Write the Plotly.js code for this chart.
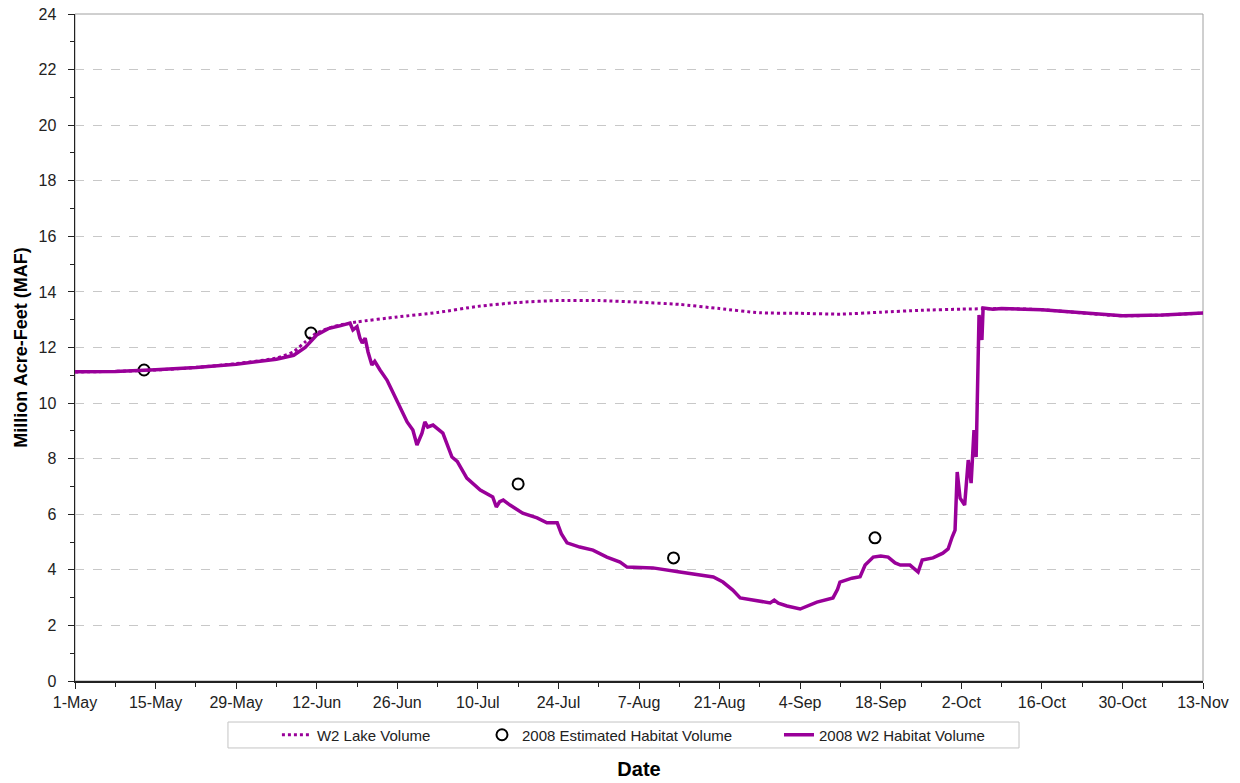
<!DOCTYPE html>
<html>
<head>
<meta charset="utf-8">
<script src="https://cdn.plot.ly/plotly-3.0.1.min.js"></script>
<style>
  html, body { margin: 0; padding: 0; background: #fff; }
  #chart { width: 1240px; height: 783px; }
</style>
</head>
<body>
<div id="chart"></div>
<script>
// Lake volume simulated by the W2 model (million acre-feet)
const lakeDates = [
  '2008-05-01', '2008-05-08', '2008-05-15', '2008-05-22', '2008-05-29',
  '2008-06-05', '2008-06-08', '2008-06-10', '2008-06-12', '2008-06-15',
  '2008-06-19', '2008-06-26', '2008-07-03', '2008-07-10', '2008-07-17',
  '2008-07-24', '2008-07-31', '2008-08-07', '2008-08-14', '2008-08-21',
  '2008-08-28', '2008-09-04', '2008-09-11', '2008-09-18', '2008-09-25',
  '2008-10-02', '2008-10-09', '2008-10-16', '2008-10-23', '2008-10-30',
  '2008-11-06', '2008-11-13'
];
const lakeVolume = [
  11.12, 11.14, 11.19, 11.28, 11.42,
  11.62, 11.85, 12.20, 12.52, 12.76,
  12.92, 13.10, 13.26, 13.48, 13.62,
  13.69, 13.69, 13.63, 13.55, 13.40,
  13.25, 13.23, 13.20, 13.27, 13.34,
  13.38, 13.40, 13.36, 13.24, 13.14,
  13.17, 13.24
];

// Habitat volume from the 2008 W2 run
const habitatDates = [
  '2008-05-01', '2008-05-08', '2008-05-15', '2008-05-22', '2008-05-29',
  '2008-06-05', '2008-06-08', '2008-06-10', '2008-06-12', '2008-06-14',
  '2008-06-16', '2008-06-17 19:00', '2008-06-18 07:00', '2008-06-19 00:00', '2008-06-19 12:00',
  '2008-06-19 22:00', '2008-06-20 10:00', '2008-06-20 22:00', '2008-06-21 14:00', '2008-06-22 02:00',
  '2008-06-23 00:00', '2008-06-23 12:00', '2008-06-24 05:00', '2008-06-24 18:00', '2008-06-25 07:00',
  '2008-06-26 12:00', '2008-06-27 17:00', '2008-06-28 17:00', '2008-06-29 10:00', '2008-06-30 07:00',
  '2008-06-30 19:00', '2008-07-01 07:00', '2008-07-02 05:00', '2008-07-03 22:00', '2008-07-05 12:00',
  '2008-07-06 10:00', '2008-07-08 02:00', '2008-07-10 10:00', '2008-07-12 14:00', '2008-07-13 05:00',
  '2008-07-13 19:00', '2008-07-14 10:00', '2008-07-15 14:00', '2008-07-17 19:00', '2008-07-20 07:00',
  '2008-07-22 00:00', '2008-07-23 19:00', '2008-07-24 12:00', '2008-07-25 12:00', '2008-07-27 17:00',
  '2008-07-30 00:00', '2008-08-01 10:00', '2008-08-03 17:00', '2008-08-04 22:00', '2008-08-09 10:00',
  '2008-08-14 02:00', '2008-08-19 22:00', '2008-08-21 14:00', '2008-08-23 07:00', '2008-08-24 14:00',
  '2008-08-26 19:00', '2008-08-29 19:00', '2008-08-30 12:00', '2008-08-31 05:00', '2008-09-01 17:00',
  '2008-09-04 00:00', '2008-09-06 22:00', '2008-09-09 17:00', '2008-09-10 12:00', '2008-09-10 22:00',
  '2008-09-13 00:00', '2008-09-14 10:00', '2008-09-15 07:00', '2008-09-16 17:00', '2008-09-18 00:00',
  '2008-09-19 07:00', '2008-09-20 12:00', '2008-09-21 10:00', '2008-09-23 02:00', '2008-09-24 12:00',
  '2008-09-25 05:00', '2008-09-27 02:00', '2008-09-28 19:00', '2008-09-29 17:00', '2008-09-30 10:00',
  '2008-09-30 22:00', '2008-10-01 07:00', '2008-10-01 19:00', '2008-10-02 14:00', '2008-10-03 05:00',
  '2008-10-03 17:00', '2008-10-04 05:00', '2008-10-04 14:00', '2008-10-05 02:00', '2008-10-05 14:00',
  '2008-10-05 19:00', '2008-10-07 12:00', '2008-10-09', '2008-10-16', '2008-10-23',
  '2008-10-30', '2008-11-06', '2008-11-13'
];
const habitatVolume = [
  11.13, 11.14, 11.20, 11.28, 11.40,
  11.58, 11.72, 12.00, 12.45, 12.68,
  12.78, 12.88, 12.63, 12.75, 12.34,
  12.16, 12.34, 11.84, 11.37, 11.50,
  11.19, 11.05, 10.83, 10.60, 10.36,
  9.82, 9.32, 9.03, 8.49, 8.92,
  9.32, 9.14, 9.21, 8.92, 8.06,
  7.90, 7.30, 6.87, 6.62, 6.26,
  6.45, 6.51, 6.33, 6.04, 5.87,
  5.69, 5.69, 5.30, 4.97, 4.82,
  4.71, 4.46, 4.28, 4.10, 4.07,
  3.92, 3.74, 3.56, 3.27, 2.99,
  2.91, 2.81, 2.91, 2.80, 2.70,
  2.59, 2.84, 2.99, 3.30, 3.56,
  3.70, 3.75, 4.17, 4.46, 4.50,
  4.46, 4.25, 4.17, 4.17, 3.92,
  4.35, 4.43, 4.60, 4.75, 5.18,
  5.43, 7.52, 6.58, 6.33, 7.95,
  7.12, 9.03, 8.06, 13.17, 12.27,
  13.42, 13.38, 13.40, 13.36, 13.24,
  13.14, 13.17, 13.24
];

// Field estimates of habitat volume
const estimateDates = ['2008-05-13', '2008-06-11', '2008-07-17', '2008-08-13', '2008-09-17'];
const estimateVolume = [11.19, 12.52, 7.09, 4.43, 5.15];

// Axis ticks
const tickDates = [
  '2008-05-01', '2008-05-15', '2008-05-29', '2008-06-12', '2008-06-26',
  '2008-07-10', '2008-07-24', '2008-08-07', '2008-08-21', '2008-09-04',
  '2008-09-18', '2008-10-02', '2008-10-16', '2008-10-30', '2008-11-13'
];
const tickLabels = [
  '1-May', '15-May', '29-May', '12-Jun', '26-Jun',
  '10-Jul', '24-Jul', '7-Aug', '21-Aug', '4-Sep',
  '18-Sep', '2-Oct', '16-Oct', '30-Oct', '13-Nov'
];

const purple = '#990099';
const font = 'Liberation Sans, Arial, sans-serif';

const traces = [
  {
    x: lakeDates, y: lakeVolume, type: 'scatter', mode: 'lines',
    name: 'W2 Lake Volume', legend: 'legend',
    line: { color: purple, width: 3, dash: 'dot', shape: 'spline', smoothing: 0.6 }
  },
  {
    x: estimateDates, y: estimateVolume, type: 'scatter', mode: 'markers',
    name: '2008 Estimated Habitat Volume', legend: 'legend2',
    marker: { symbol: 'circle-open', size: 11, color: '#000', line: { width: 2, color: '#000' } }
  },
  {
    x: habitatDates, y: habitatVolume, type: 'scatter', mode: 'lines',
    name: '2008 W2 Habitat Volume', legend: 'legend3',
    line: { color: purple, width: 3.5 }
  }
];

// one legend per entry so the entries sit where they belong inside the shared box
function legendAt(xp) {
  return {
    orientation: 'h', x: xp, xanchor: 'left', y: -0.081, yanchor: 'middle',
    borderwidth: 0, bgcolor: 'rgba(0,0,0,0)',
    font: { family: font, size: 15, color: '#222' }
  };
}

const layout = {
  width: 1240, height: 783,
  margin: { l: 75, r: 37, t: 14, b: 102 },
  paper_bgcolor: '#fff', plot_bgcolor: '#fff',
  font: { family: font, color: '#000' },
  showlegend: true,
  legend: legendAt(0.1790),
  legend2: legendAt(0.3608),
  legend3: legendAt(0.6241),
  xaxis: {
    type: 'date',
    range: ['2008-05-01', '2008-11-13'],
    tickmode: 'array', tickvals: tickDates, ticktext: tickLabels,
    tickfont: { family: font, size: 16, color: '#222' },
    ticks: 'outside', ticklen: 6, tickcolor: '#222', tickwidth: 1,
    minor: { dtick: 7 * 86400000, tick0: '2008-05-08', ticks: 'outside', ticklen: 4, tickcolor: '#222', showgrid: false },
    showline: true, linecolor: '#222', linewidth: 1.5,
    showgrid: false, zeroline: false,
    automargin: false,
    title: { text: 'Date', font: { family: font, size: 20, color: '#000', weight: 'bold' }, standoff: 52 }
  },
  yaxis: {
    range: [0, 24], dtick: 2, tick0: 0,
    tickfont: { family: font, size: 16, color: '#222' },
    ticks: 'outside', ticklen: 6, tickcolor: '#222',
    ticklabelstandoff: 8,
    minor: { dtick: 1, ticks: 'outside', ticklen: 4, tickcolor: '#222', showgrid: false },
    showline: true, linecolor: '#222', linewidth: 1.5,
    showgrid: true, gridcolor: '#c8c8c8', griddash: 'dash', gridwidth: 1,
    zeroline: false,
    automargin: false,
    title: { text: 'Million Acre-Feet (MAF)', font: { family: font, size: 18, color: '#000', weight: 'bold' }, standoff: 6 }
  },
  shapes: [
    // plot frame
    { type: 'rect', xref: 'paper', yref: 'paper', x0: 0, x1: 1, y0: 0, y1: 1,
      line: { color: '#a0a0a0', width: 1 }, layer: 'below' },
    // legend frame
    { type: 'rect', xref: 'paper', yref: 'paper', x0: 0.1356, x1: 0.8369, y0: -0.1004, y1: -0.0615,
      line: { color: '#c4c4c4', width: 1 }, fillcolor: '#fff', layer: 'below' }
  ]
};

Plotly.newPlot('chart', traces, layout, { displayModeBar: false, staticPlot: true });
</script>
</body>
</html>
